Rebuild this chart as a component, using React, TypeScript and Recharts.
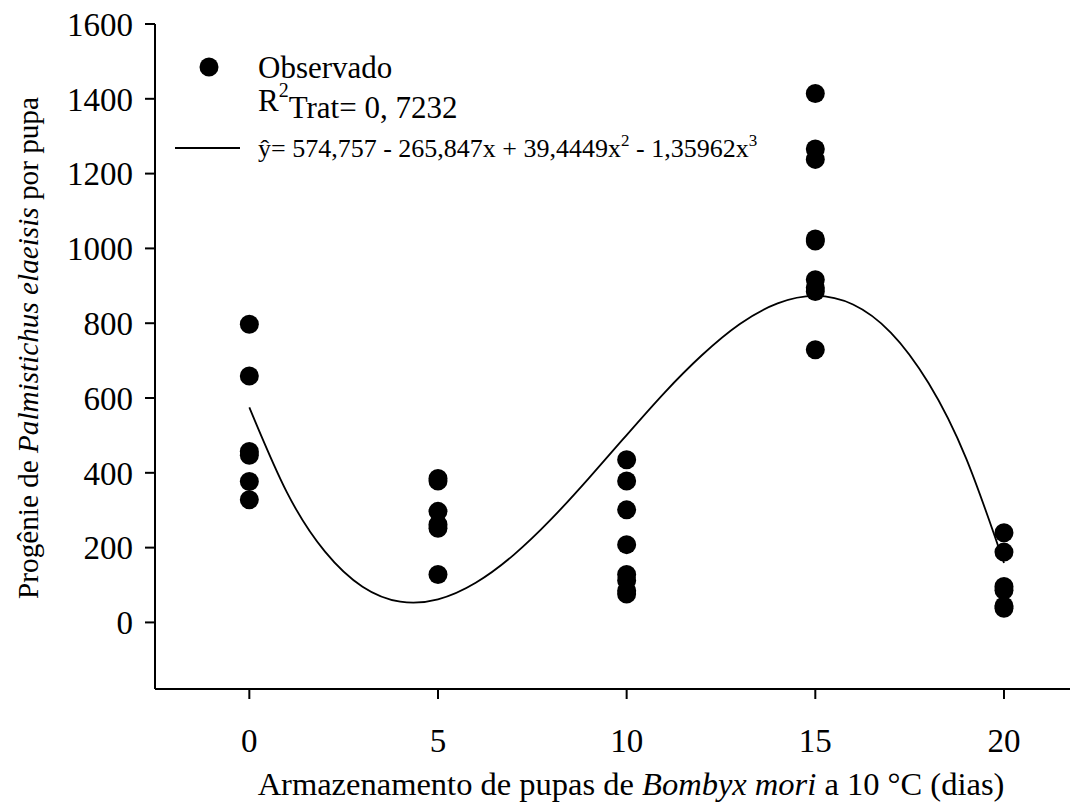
import React from 'react';
import { ComposedChart, Line, Scatter, XAxis, YAxis } from 'recharts';

// observed progeny per pupa, one array per storage period (days)
const storageDays = [0, 5, 10, 15, 20];
const obsDay0 = [797, 659, 457, 447, 377, 328];
const obsDay5 = [385, 378, 297, 262, 252, 128];
const obsDay10 = [435, 378, 301, 208, 128, 112, 85, 76];
const obsDay15 = [1414, 1266, 1238, 1025, 1020, 916, 895, 885, 729];
const obsDay20 = [240, 188, 96, 86, 44, 38];

// fitted curve
const curveX = [0, 1, 2, 3, 4, 5, 6, 7, 8, 9, 10, 11, 12, 13, 14, 15, 16, 17, 18, 19, 20];
const curveY = [575, 347, 190, 95.5, 55.5, 61.7, 106, 180, 276, 386, 501, 614, 715, 798, 853, 873, 850, 775, 640, 438, 159];

const xTicks = [0, 5, 10, 15, 20];
const yTicks = [0, 200, 400, 600, 800, 1000, 1200, 1400, 1600];

const FONT = '"Liberation Serif", "Times New Roman", serif';
const TICK_FS = 33;

const observed = [obsDay0, obsDay5, obsDay10, obsDay15, obsDay20].flatMap((vals, i) =>
    vals.map(v => ({ x: storageDays[i], y: v }))
);
const curve = curveX.map((x, i) => ({ x, y: curveY[i] }));

const Dot = (props: any) => <circle cx={props.cx} cy={props.cy} r={9.5} fill="#000" />;

const XTitle = () => (
    <text x={631} y={795} textAnchor="middle" fontFamily={FONT} fontSize={32.5} fill="#000">
        Armazenamento de pupas de <tspan fontStyle="italic">Bombyx mori</tspan> a 10 °C (dias)
    </text>
);

const YTitle = () => (
    <text x={38} y={348} textAnchor="middle" fontFamily={FONT} fontSize={29.2} fill="#000" transform="rotate(-90 38 348)">
        Progênie de <tspan fontStyle="italic">Palmistichus elaeisis</tspan> por pupa
    </text>
);

export default function App() {
    return (
        <div style={{ position: 'absolute', left: 0, top: 0, width: 1072, height: 809, background: '#fff' }}>
            <ComposedChart width={1072} height={809} margin={{ top: 24, right: 2, left: 55, bottom: 30 }}>
                <XAxis
                    type="number"
                    dataKey="x"
                    domain={[-2.5, 21.75]}
                    ticks={xTicks}
                    allowDataOverflow
                    height={90}
                    stroke="#000"
                    strokeWidth={2}
                    tickSize={10}
                    tickMargin={30}
                    tick={{ fontFamily: FONT, fontSize: TICK_FS, fill: '#000' }}
                    label={<XTitle />}
                />
                <YAxis
                    type="number"
                    dataKey="y"
                    domain={[-178, 1600]}
                    ticks={yTicks}
                    allowDataOverflow
                    width={100}
                    stroke="#000"
                    strokeWidth={2}
                    tickSize={10}
                    tickMargin={12}
                    tick={{ fontFamily: FONT, fontSize: TICK_FS, fill: '#000' }}
                    label={<YTitle />}
                />
                <Line data={curve} dataKey="y" type="natural" stroke="#000" strokeWidth={1.8} dot={false} isAnimationActive={false} />
                <Scatter data={observed} dataKey="y" shape={<Dot />} isAnimationActive={false} />
            </ComposedChart>
            <svg width={1072} height={809} style={{ position: 'absolute', left: 0, top: 0, pointerEvents: 'none' }}>
                <g fontFamily={FONT} fill="#000">
                    <circle cx={209} cy={67} r={9.5} />
                    <text x={258} y={78} fontSize={31}>Observado</text>
                    <text x={258} y={111} fontSize={31}>
                        R<tspan fontSize={20} dy={-14}>2</tspan><tspan dy={21}>Trat</tspan>= 0, 7232
                    </text>
                    <line x1={175} x2={240} y1={148} y2={148} stroke="#000" strokeWidth={2} />
                    <text x={258} y={157} fontSize={26}>
                        ŷ= 574,757 - 265,847x + 39,4449x<tspan fontSize={17} dy={-11}>2</tspan>
                        <tspan dy={11}> - 1,35962x</tspan><tspan fontSize={17} dy={-11}>3</tspan>
                    </text>
                </g>
            </svg>
        </div>
    );
}
